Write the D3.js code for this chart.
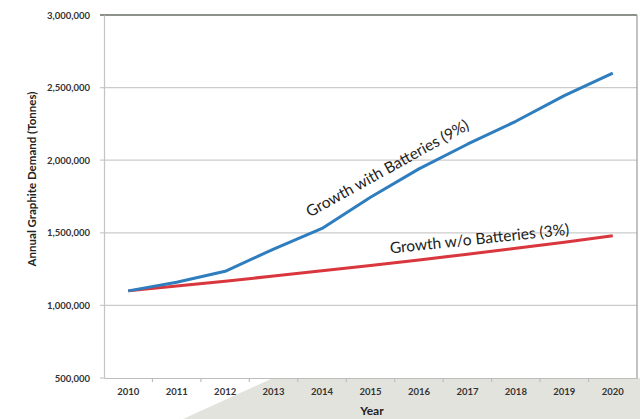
<!DOCTYPE html>
<html><head><meta charset="utf-8">
<script src="https://cdn.jsdelivr.net/npm/d3@7"></script>
<style>
html,body{margin:0;padding:0;background:#fff;}
svg{display:block;}
</style></head>
<body>
<svg id="chart" width="640" height="419"></svg>
<script>
const years = ["2010","2011","2012","2013","2014","2015","2016","2017","2018","2019","2020"];
const withBatteries = [1100000,1160000,1235000,1388000,1530000,1745000,1940000,2110000,2268000,2445000,2600000];
const withoutBatteries = [1100000,1133000,1167000,1202000,1238000,1275000,1313000,1353000,1393000,1435000,1480000];
const yTicks = [500000,1000000,1500000,2000000,2500000,3000000];
const seriesLabels = ["Growth with Batteries (9%)","Growth w/o Batteries (3%)"];
const yTitle = "Annual Graphite Demand (Tonnes)";
const xTitle = "Year";

const svg = d3.select("#chart");
const font = "Lato, 'Open Sans', sans-serif";
const L = 104, R = 637, T = 15, B = 378;

const x = d3.scaleBand().domain(years).range([L, R]).padding(0);
const y = d3.scaleLinear().domain([500000, 3000000]).range([B, T]);

// grey decorative shape at bottom
svg.append("path")
  .attr("d", `M183,419 L273,${B} L640,${B} L640,419 Z`)
  .attr("fill", "#e3e3dd");

// gridlines
svg.append("g").selectAll("line").data(yTicks.filter(d => d !== 3000000 && d !== 500000)).join("line")
  .attr("x1", L - 4).attr("x2", R)
  .attr("y1", d => y(d)).attr("y2", d => y(d))
  .attr("stroke", "#cbcbcb").attr("stroke-width", 1.2);

// plot frame top and right
svg.append("line").attr("x1", L - 4).attr("x2", R).attr("y1", y(3000000)).attr("y2", y(3000000))
  .attr("stroke", "#8c9189").attr("stroke-width", 1.8);
svg.append("line").attr("x1", R).attr("x2", R).attr("y1", T).attr("y2", B)
  .attr("stroke", "#9a9a9a").attr("stroke-width", 1.2);

// y axis
const yAxis = svg.append("g").attr("transform", `translate(${L},0)`)
  .call(d3.axisLeft(y).tickValues(yTicks).tickFormat(d3.format(",")).tickSize(0).tickPadding(14));
yAxis.select(".domain").attr("stroke", "#c4c4c4").attr("stroke-width", 1.2);
yAxis.selectAll("text").attr("font-family", font).attr("font-size", 9.5).attr("font-weight", "bold").attr("fill", "#333");

// x axis
const xAxis = svg.append("g").attr("transform", `translate(0,${B})`)
  .call(d3.axisBottom(x).tickSize(0).tickPadding(10));
xAxis.select(".domain").attr("stroke", "#bdbdbd").attr("stroke-width", 1.2);
xAxis.selectAll("text").attr("font-family", font).attr("font-size", 9.5).attr("font-weight", "bold").attr("fill", "#333");
// tick marks at band boundaries
svg.append("g").selectAll("line").data(years.slice(1)).join("line")
  .attr("x1", d => x(d)).attr("x2", d => x(d))
  .attr("y1", B).attr("y2", B + 4)
  .attr("stroke", "#bdbdbd").attr("stroke-width", 1.2);
svg.append("line").attr("x1", L - 4).attr("x2", L).attr("y1", B).attr("y2", B).attr("stroke", "#bdbdbd");

// lines
const line = d3.line().x((d, i) => x(years[i]) + x.bandwidth() / 2).y(d => y(d));
svg.append("path").datum(withoutBatteries).attr("d", line)
  .attr("fill", "none").attr("stroke", "#d9363e").attr("stroke-width", 3).attr("stroke-linejoin", "round");
svg.append("path").datum(withBatteries).attr("d", line)
  .attr("fill", "none").attr("stroke", "#2e7dbf").attr("stroke-width", 3).attr("stroke-linejoin", "round");

// series labels
svg.append("text").attr("transform", "translate(390,173) rotate(-29)")
  .attr("text-anchor", "middle").attr("font-family", font).attr("font-size", 15.5).attr("fill", "#222")
  .text(seriesLabels[0]);
svg.append("text").attr("transform", "translate(480,244) rotate(-6)")
  .attr("text-anchor", "middle").attr("font-family", font).attr("font-size", 15.5).attr("fill", "#222")
  .text(seriesLabels[1]);

// axis titles
svg.append("text").attr("transform", "translate(36,179) rotate(-90)")
  .attr("text-anchor", "middle").attr("font-family", font).attr("font-size", 11.5).attr("font-weight", "bold").attr("fill", "#222")
  .text(yTitle);
svg.append("text").attr("x", 372).attr("y", 415)
  .attr("text-anchor", "middle").attr("font-family", font).attr("font-size", 12).attr("font-weight", "bold").attr("fill", "#222")
  .text(xTitle);
</script>
</body></html>
